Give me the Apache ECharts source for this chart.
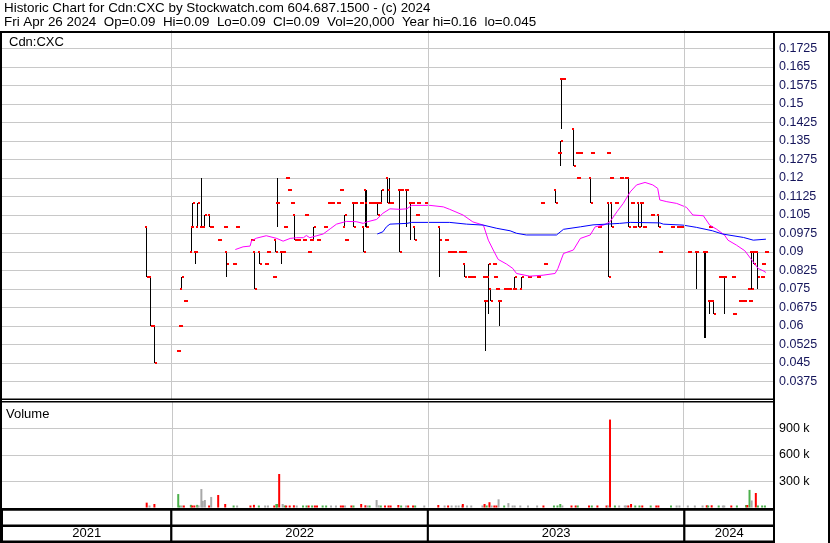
<!DOCTYPE html>
<html><head><meta charset="utf-8">
<script src="https://cdn.jsdelivr.net/npm/echarts@6/dist/echarts.min.js"></script>
<style>html,body{margin:0;padding:0;background:#fff}#c{width:830px;height:543px}</style>
</head><body><div id="c"></div>
<script>
// ---------- texts ----------
const headerLine1 = 'Historic Chart for Cdn:CXC by Stockwatch.com 604.687.1500 - (c) 2024';
const headerLine2 = 'Fri Apr 26 2024  Op=0.09  Hi=0.09  Lo=0.09  Cl=0.09  Vol=20,000  Year hi=0.16  lo=0.045';
const symbolLabel = 'Cdn:CXC';
const volumeLabel = 'Volume';
const yearLabels = ['2021', '2022', '2023', '2024'];
const yearBoundaries = ['2022-01-01', '2023-01-01', '2024-01-01'];
const axisStart = '2021-05-05';
const axisEnd = '2024-05-07 12:00';
const priceMin = 0.03, priceMax = 0.18, priceStep = 0.0075;
const volMin = 0, volMax = 1200000, volStep = 300000;

// ---------- price bars (OHLC) ----------
const barDate = [
'2021-11-26','2021-12-01','2021-12-07','2022-01-10','2022-01-13','2022-01-15','2022-01-20','2022-01-29','2022-01-31','2022-02-03',
'2022-02-07','2022-02-12','2022-02-16','2022-02-23','2022-02-27','2022-03-10','2022-03-18','2022-03-20','2022-03-31','2022-04-04',
'2022-04-26','2022-04-29','2022-05-06','2022-05-15','2022-05-19','2022-05-27','2022-05-29','2022-06-01','2022-06-06','2022-06-09',
'2022-06-11','2022-06-15','2022-06-18','2022-06-21','2022-06-24','2022-06-30','2022-07-09','2022-07-11','2022-07-16','2022-07-19',
'2022-07-22','2022-07-28','2022-08-07','2022-08-13','2022-08-18','2022-08-26','2022-08-30','2022-09-03','2022-09-07','2022-09-16',
'2022-09-20','2022-09-28','2022-09-30','2022-10-04','2022-10-05','2022-10-10','2022-10-17','2022-10-20','2022-10-24','2022-10-26',
'2022-11-04','2022-11-06','2022-11-10','2022-11-21','2022-11-24','2022-12-01','2022-12-06','2022-12-10','2022-12-12','2022-12-16',
'2022-12-18','2022-12-29','2023-01-17','2023-01-27','2023-01-31','2023-02-03','2023-02-07','2023-02-16','2023-02-21','2023-02-22',
'2023-02-28','2023-03-06','2023-03-22','2023-03-23','2023-03-28','2023-03-30','2023-04-05','2023-04-07','2023-04-10','2023-04-12',
'2023-04-21','2023-04-27','2023-05-03','2023-05-04','2023-05-14','2023-05-25','2023-06-07','2023-06-13','2023-06-16','2023-07-01',
'2023-07-06','2023-07-08','2023-07-10','2023-07-12','2023-07-26','2023-08-01','2023-08-02','2023-08-05','2023-08-20','2023-08-23',
'2023-09-01','2023-09-14','2023-09-15','2023-09-18','2023-09-19','2023-09-25','2023-10-03','2023-10-10','2023-10-13','2023-10-19',
'2023-10-21','2023-10-27','2023-10-31','2023-11-05','2023-11-16','2023-11-24','2023-11-27','2023-12-14','2023-12-23','2023-12-28',
'2024-01-08','2024-01-18','2024-01-29','2024-01-31','2024-02-05','2024-02-06','2024-02-10','2024-02-21','2024-02-27','2024-03-10',
'2024-03-12','2024-03-20','2024-03-26','2024-04-02','2024-04-03','2024-04-05','2024-04-07','2024-04-10','2024-04-14','2024-04-20',
'2024-04-22','2024-04-26'];
const barOpen = [
.10,.08,.06,.05,.06,.075,.07,.09,.10,.09,
.10,.10,.10,.105,.10,.095,.10,.09,.085,.10,
.095,.09,.09,.085,.09,.08,.095,.11,.09,.09,
.10,.12,.115,.11,.105,.095,.095,.105,.09,.095,
.095,.095,.10,.11,.11,.11,.115,.10,.095,.11,
.11,.11,.10,.115,.11,.11,.11,.11,.11,.11,
.12,.115,.11,.115,.115,.115,.11,.11,.10,.105,
.11,.11,.10,.095,.09,.09,.09,.09,.09,.085,
.08,.08,.08,.07,.08,.075,.085,.08,.075,.07,
.075,.075,.075,.075,.075,.08,.08,.11,.085,.115,
.13,.13,.16,.16,.14,.13,.12,.13,.12,.13,
.10,.11,.13,.12,.11,.11,.12,.12,.12,.11,
.10,.11,.11,.10,.105,.105,.09,.10,.10,.10,
.09,.09,.09,.09,.07,.10,.07,.08,.08,.08,
.065,.07,.07,.075,.07,.09,.09,.09,.09,.08,
.085,.09];
const barHigh = [
.10,.08,.06,.05,.06,.08,.07,.10,.11,.09,
.11,.12,.105,.105,.10,.095,.10,.09,.085,.10,
.095,.09,.09,.085,.09,.08,.095,.12,.09,.09,
.10,.12,.115,.11,.105,.095,.095,.105,.09,.095,
.10,.095,.10,.11,.11,.11,.115,.105,.095,.11,
.11,.11,.10,.115,.115,.11,.11,.11,.11,.115,
.12,.12,.11,.115,.115,.115,.11,.11,.10,.105,
.11,.11,.10,.095,.09,.09,.09,.09,.09,.085,
.08,.08,.08,.07,.085,.075,.085,.08,.075,.07,
.075,.075,.075,.08,.08,.08,.08,.11,.085,.115,
.13,.135,.16,.16,.14,.13,.12,.13,.12,.13,
.10,.11,.13,.12,.11,.11,.12,.12,.12,.11,
.10,.11,.11,.10,.105,.105,.09,.10,.10,.10,
.09,.09,.09,.09,.07,.10,.07,.08,.08,.08,
.065,.07,.07,.075,.07,.09,.09,.09,.09,.08,
.085,.09];
const barLow = [
.08,.06,.045,.05,.06,.075,.07,.09,.10,.085,
.10,.10,.10,.10,.10,.095,.10,.08,.085,.10,
.095,.075,.085,.085,.09,.08,.09,.10,.085,.09,
.10,.12,.115,.11,.095,.095,.095,.105,.09,.095,
.095,.095,.10,.11,.11,.11,.115,.10,.095,.10,
.11,.11,.09,.10,.10,.11,.11,.105,.11,.11,
.11,.11,.11,.09,.115,.10,.095,.11,.095,.105,
.11,.11,.08,.095,.09,.09,.09,.09,.09,.08,
.08,.08,.08,.05,.065,.07,.085,.08,.075,.06,
.075,.075,.075,.075,.075,.08,.08,.11,.085,.11,
.13,.125,.14,.16,.125,.13,.12,.13,.11,.13,
.10,.08,.13,.12,.10,.11,.12,.12,.10,.11,
.10,.10,.10,.10,.105,.10,.09,.10,.10,.10,
.09,.075,.055,.055,.065,.10,.065,.08,.065,.08,
.065,.07,.07,.075,.07,.075,.085,.09,.075,.08,
.085,.09];
const barClose = [
.08,.06,.045,.05,.06,.08,.07,.10,.11,.09,
.11,.10,.105,.10,.10,.095,.10,.085,.085,.10,
.095,.075,.085,.085,.09,.08,.09,.11,.09,.09,
.10,.12,.115,.11,.095,.095,.095,.105,.09,.095,
.10,.095,.10,.11,.11,.11,.115,.105,.095,.10,
.11,.11,.09,.10,.10,.11,.11,.105,.11,.115,
.11,.11,.11,.09,.115,.115,.11,.11,.095,.105,
.11,.11,.095,.095,.09,.09,.09,.09,.09,.08,
.08,.08,.08,.07,.085,.07,.085,.08,.075,.07,
.075,.075,.075,.08,.08,.08,.08,.11,.085,.11,
.13,.135,.16,.16,.125,.13,.12,.13,.11,.13,
.10,.08,.13,.12,.10,.11,.12,.12,.10,.11,
.10,.10,.11,.10,.105,.10,.09,.10,.10,.10,
.09,.09,.09,.09,.07,.10,.065,.08,.08,.08,
.065,.07,.07,.075,.07,.075,.085,.09,.08,.08,
.085,.09];

// ---------- moving averages ----------
const maFastDate = ['2022-04-02','2022-04-13','2022-04-23','2022-04-25','2022-05-02','2022-05-16','2022-05-31','2022-06-09','2022-06-19','2022-06-28',
'2022-07-08','2022-07-12','2022-07-17','2022-07-27','2022-08-05','2022-08-15','2022-08-24','2022-09-07','2022-09-21','2022-10-01',
'2022-10-06','2022-10-20','2022-10-29','2022-11-08','2022-11-22','2022-12-02','2022-12-09','2023-01-04','2023-01-23','2023-02-01',
'2023-02-20','2023-03-06','2023-03-21','2023-03-28','2023-04-04','2023-04-11','2023-04-23','2023-05-02','2023-05-07','2023-05-26',
'2023-06-14','2023-07-01','2023-07-05','2023-07-13','2023-07-27','2023-08-06','2023-08-20','2023-08-27','2023-09-08','2023-09-17',
'2023-09-27','2023-10-06','2023-10-16','2023-10-25','2023-11-06','2023-11-17','2023-11-24','2023-11-27','2023-12-07','2023-12-21',
'2024-01-04','2024-01-13','2024-01-28','2024-02-06','2024-02-16','2024-02-27','2024-03-03','2024-03-15','2024-03-27','2024-04-06',
'2024-04-15','2024-04-22','2024-04-26'];
const maFastValue = [0.0910,0.0921,0.0924,0.0945,0.0956,0.0966,0.0955,0.0944,0.0955,0.0958,
0.0958,0.0967,0.0958,0.0966,0.0973,0.0994,0.1013,0.1024,0.1023,0.1016,
0.1022,0.1032,0.1057,0.1075,0.1073,0.1075,0.1089,0.1089,0.1083,0.1073,
0.1050,0.1022,0.1009,0.0948,0.0908,0.0870,0.0851,0.0833,0.0813,0.0802,
0.0806,0.0813,0.0833,0.0894,0.0908,0.0955,0.0969,0.1002,0.1009,0.1022,
0.1063,0.1097,0.1144,0.1172,0.1182,0.1172,0.1158,0.1111,0.1104,0.1097,
0.1081,0.1050,0.1047,0.1009,0.0992,0.0969,0.0948,0.0928,0.0905,0.0867,
0.0833,0.0824,0.0817];
const maSlowDate = ['2022-10-21','2022-10-29','2022-11-03','2022-11-08','2022-12-02','2022-12-09','2023-02-01','2023-02-25','2023-03-21','2023-04-09',
'2023-04-28','2023-05-07','2023-05-21','2023-07-03','2023-07-13','2023-08-06','2023-08-24','2023-10-01','2023-10-16','2023-11-27',
'2023-12-02','2023-12-30','2024-01-18','2024-02-10','2024-02-24','2024-03-25','2024-04-08','2024-04-26'];
const maSlowValue = [0.0973,0.0982,0.1002,0.1013,0.1016,0.1020,0.1020,0.1013,0.1009,0.0996,
0.0986,0.0976,0.0969,0.0969,0.0992,0.1002,0.1010,0.1016,0.1020,0.1018,
0.1013,0.1009,0.1000,0.0986,0.0973,0.0959,0.0948,0.0952];

// ---------- volume ----------
const volDate = [
'2021-11-26','2021-11-30','2021-12-07','2022-01-10','2022-01-12','2022-01-15','2022-01-18','2022-01-28','2022-01-30','2022-02-02',
'2022-02-06','2022-02-08','2022-02-12','2022-02-14','2022-02-17','2022-02-23','2022-02-26','2022-03-08','2022-03-18','2022-03-30',
'2022-04-04','2022-04-23','2022-04-28','2022-05-05','2022-05-14','2022-05-18','2022-05-27','2022-05-30','2022-05-31','2022-06-03',
'2022-06-08','2022-06-11','2022-06-13','2022-06-18','2022-06-24','2022-06-28','2022-07-07','2022-07-12','2022-07-15','2022-07-20',
'2022-07-24','2022-07-27','2022-08-04','2022-08-09','2022-08-16','2022-08-23','2022-08-30','2022-09-02','2022-09-05','2022-09-14',
'2022-09-17','2022-09-28','2022-10-04','2022-10-07','2022-10-10','2022-10-20','2022-10-23','2022-10-26','2022-11-01','2022-11-06',
'2022-11-09','2022-11-20','2022-11-24','2022-12-01','2022-12-04','2022-12-11','2022-12-14','2022-12-27','2023-01-16','2023-01-25',
'2023-01-30','2023-02-04','2023-02-10','2023-02-14','2023-02-19','2023-02-20','2023-02-26','2023-03-04','2023-03-20','2023-03-23',
'2023-03-26','2023-03-30','2023-04-02','2023-04-06','2023-04-09','2023-04-12','2023-04-20','2023-04-26','2023-05-02','2023-05-05',
'2023-05-13','2023-05-24','2023-06-06','2023-06-15','2023-06-30','2023-07-05','2023-07-09','2023-07-12','2023-07-25','2023-07-31',
'2023-08-03','2023-08-19','2023-08-23','2023-08-31','2023-09-13','2023-09-15','2023-09-18','2023-09-25','2023-10-01','2023-10-09',
'2023-10-11','2023-10-14','2023-10-18','2023-10-24','2023-10-30','2023-11-03','2023-11-15','2023-11-23','2023-11-26','2023-12-14',
'2023-12-22','2023-12-26','2024-01-07','2024-01-17','2024-01-28','2024-02-03','2024-02-05','2024-02-10','2024-02-20','2024-02-26',
'2024-02-28','2024-03-09','2024-03-17','2024-03-30','2024-04-01','2024-04-04','2024-04-07','2024-04-13','2024-04-16','2024-04-22',
'2024-04-26'];
const volValue = [
55000,8000,40000,153000,15000,18000,10000,30000,12000,12000,
30000,10000,210000,75000,85000,10000,120000,142000,40000,8000,
8000,8000,30000,8000,8000,8000,8000,40000,40000,381000,
40000,10000,8000,8000,25000,8000,8000,8000,18000,18000,
8000,8000,8000,8000,8000,8000,12000,12000,12000,8000,
8000,40000,25000,10000,8000,85000,25000,8000,18000,18000,
10000,28000,8000,12000,8000,15000,8000,8000,28000,8000,
8000,8000,8000,8000,20000,40000,8000,8000,12000,40000,
20000,60000,8000,8000,10000,93000,8000,50000,8000,8000,
8000,8000,8000,8000,8000,8000,40000,8000,15000,8000,
8000,15000,8000,8000,8000,8000,1000000,8000,8000,8000,
8000,8000,40000,8000,8000,8000,8000,8000,8000,8000,
8000,8000,8000,20000,12000,25000,8000,25000,8000,8000,
8000,8000,8000,28000,28000,200000,80000,165000,8000,15000,
20000];
const volDir = [
'd','n','d','u','u','n','d','u','d','d',
'u','n','n','n','n','d','n','d','d','u',
'n','d','d','u','n','n','d','u','u','d',
'n','u','d','d','d','n','u','u','d','u',
'd','d','u','u','n','n','d','d','n','d',
'u','d','d','n','u','n','n','u','d','d',
'd','d','u','n','d','d','u','n','d','n',
'd','n','n','n','n','d','n','n','n','d',
'u','d','n','d','d','n','u','n','n','n',
'n','n','n','d','u','u','u','n','d','d',
'u','d','u','d','d','n','d','u','n','n',
'n','d','d','u','u','d','u','d','d','u',
'n','n','n','n','n','d','u','d','u','n',
'n','d','u','u','d','u','n','d','u','u',
'u'];

// ---------- styles ----------
const FONT = "'Liberation Sans', Arial, sans-serif";
const volColor = { u: '#4cb04c', d: '#ff0000', n: '#a8a8a8' };
const gridGray = '#c8c8c8';

const chart = echarts.init(document.getElementById('c'), null, { renderer: 'canvas' });

function ohlcItem(params, api) {
  const x = api.value(0);
  const pO = api.coord([x, api.value(1)]);
  const pH = api.coord([x, api.value(2)]);
  const pL = api.coord([x, api.value(3)]);
  const pC = api.coord([x, api.value(4)]);
  const n = Math.round(pH[0]);
  const children = [];
  if (pL[1] - pH[1] > 0.5) {
    children.push({ type: 'line', shape: { x1: n + 0.5, y1: Math.round(pH[1]), x2: n + 0.5, y2: Math.round(pL[1]) },
      style: { stroke: '#000', lineWidth: 1 } });
  }
  children.push({ type: 'rect', shape: { x: n - 1, y: Math.round(pO[1]) - 1, width: 2, height: 2 }, style: { fill: '#ff0000' } });
  children.push({ type: 'rect', shape: { x: n + 1, y: Math.round(pC[1]) - 1, width: 2, height: 2 }, style: { fill: '#ff0000' } });
  return { type: 'group', children };
}

const yearAreas = [];
yearLabels.forEach((y, i) => {
  const s = i === 0 ? axisStart : yearBoundaries[i - 1];
  const e = i === yearLabels.length - 1 ? axisEnd : yearBoundaries[i];
  yearAreas.push([{ xAxis: s, yAxis: 0, name: y }, { xAxis: e, yAxis: 1 }]);
  yearAreas.push([{ xAxis: s, yAxis: 1, name: '', label: { show: false } }, { xAxis: e, yAxis: 2 }]);
});

const frame = (x, y, w, h) => ({ type: 'rect', z: 100, silent: true, shape: { x, y, width: w, height: h }, style: { fill: '#000' } });
const txt = (x, y, t, size) => ({ type: 'text', z: 101, silent: true, x, y,
  style: { text: t, font: (size || 13) + 'px ' + FONT, fill: '#000', textVerticalAlign: 'middle' } });

const option = {
  animation: false,
  backgroundColor: '#fff',
  grid: [
    { left: 2, top: 30, width: 772, height: 370 },
    { left: 2, top: 402, width: 772, height: 105.5 },
    { left: 2, top: 509.5, width: 772, height: 32 }
  ],
  xAxis: [0, 1, 2].map(i => ({
    type: 'time', gridIndex: i, min: axisStart, max: axisEnd, show: false, splitLine: { show: false }
  })),
  yAxis: [
    { type: 'value', gridIndex: 0, position: 'right', min: priceMin, max: priceMax, interval: priceStep,
      axisLine: { show: false }, axisTick: { show: false },
      axisLabel: { margin: 5, color: '#14145a', fontSize: 12.5, fontFamily: FONT, showMinLabel: false, showMaxLabel: false,
        formatter: v => String(parseFloat(v.toFixed(4))) },
      splitLine: { show: true, showMinLine: false, showMaxLine: false, lineStyle: { color: gridGray, width: 1 } } },
    { type: 'value', gridIndex: 1, position: 'right', min: volMin, max: volMax, interval: volStep,
      axisLine: { show: false }, axisTick: { show: false },
      axisLabel: { margin: 5, color: '#000', fontSize: 12.5, fontFamily: FONT, showMinLabel: false, showMaxLabel: false,
        formatter: v => (v / 1000) + ' k' },
      splitLine: { show: true, showMinLine: false, showMaxLine: false, lineStyle: { color: gridGray, width: 1 } } },
    { type: 'value', gridIndex: 2, min: 0, max: 2, show: false, splitLine: { show: false } }
  ],
  series: [
    { type: 'line', xAxisIndex: 0, yAxisIndex: 0, z: 1, data: [[axisStart, priceMin]], showSymbol: false, lineStyle: { width: 0 },
      markLine: { silent: true, symbol: ['none', 'none'], label: { show: false },
        lineStyle: { color: gridGray, type: 'solid', width: 1 }, data: yearBoundaries.map(d => ({ xAxis: d })) } },
    { type: 'custom', xAxisIndex: 0, yAxisIndex: 0, z: 3, renderItem: ohlcItem,
      encode: { x: 0, y: [1, 2, 3, 4] },
      data: barDate.map((d, i) => [d, barOpen[i], barHigh[i], barLow[i], barClose[i]]) },
    { type: 'line', xAxisIndex: 0, yAxisIndex: 0, z: 4, showSymbol: false, smooth: false,
      lineStyle: { color: '#ff00ff', width: 1 }, data: maFastDate.map((d, i) => [d, maFastValue[i]]) },
    { type: 'line', xAxisIndex: 0, yAxisIndex: 0, z: 4, showSymbol: false, smooth: false,
      lineStyle: { color: '#0000ff', width: 1 }, data: maSlowDate.map((d, i) => [d, maSlowValue[i]]) },
    { type: 'bar', xAxisIndex: 1, yAxisIndex: 1, barWidth: 2, barMinHeight: 2,
      data: volDate.map((d, i) => ({ value: [d, volValue[i]], itemStyle: { color: volColor[volDir[i]] } })),
      markLine: { silent: true, symbol: ['none', 'none'], label: { show: false },
        lineStyle: { color: gridGray, type: 'solid', width: 1 }, data: yearBoundaries.map(d => ({ xAxis: d })) } },
    { type: 'scatter', xAxisIndex: 2, yAxisIndex: 2, symbolSize: 0, data: [[axisStart, 0]],
      markArea: { silent: true,
        itemStyle: { color: '#fff', borderColor: '#000', borderWidth: 2 },
        label: { show: true, position: 'inside', color: '#000', fontSize: 13, fontFamily: FONT },
        data: yearAreas } }
  ],
  graphic: [
    txt(4, 8, headerLine1, 13.4),
    txt(4, 22, headerLine2, 13.4),
    txt(9, 42, symbolLabel, 13),
    txt(6, 414, volumeLabel, 13),
    frame(0, 31, 830, 2),
    frame(0, 31, 2, 512),
    frame(773, 31, 2, 512),
    frame(828, 31, 2, 512),
    frame(0, 398.5, 775, 1.5),
    frame(0, 401, 775, 1.5),
    frame(0, 508, 775, 2.5),
    frame(0, 525, 775, 2),
    frame(0, 541, 775, 2)
  ]
};
chart.setOption(option);
</script>
</body></html>
